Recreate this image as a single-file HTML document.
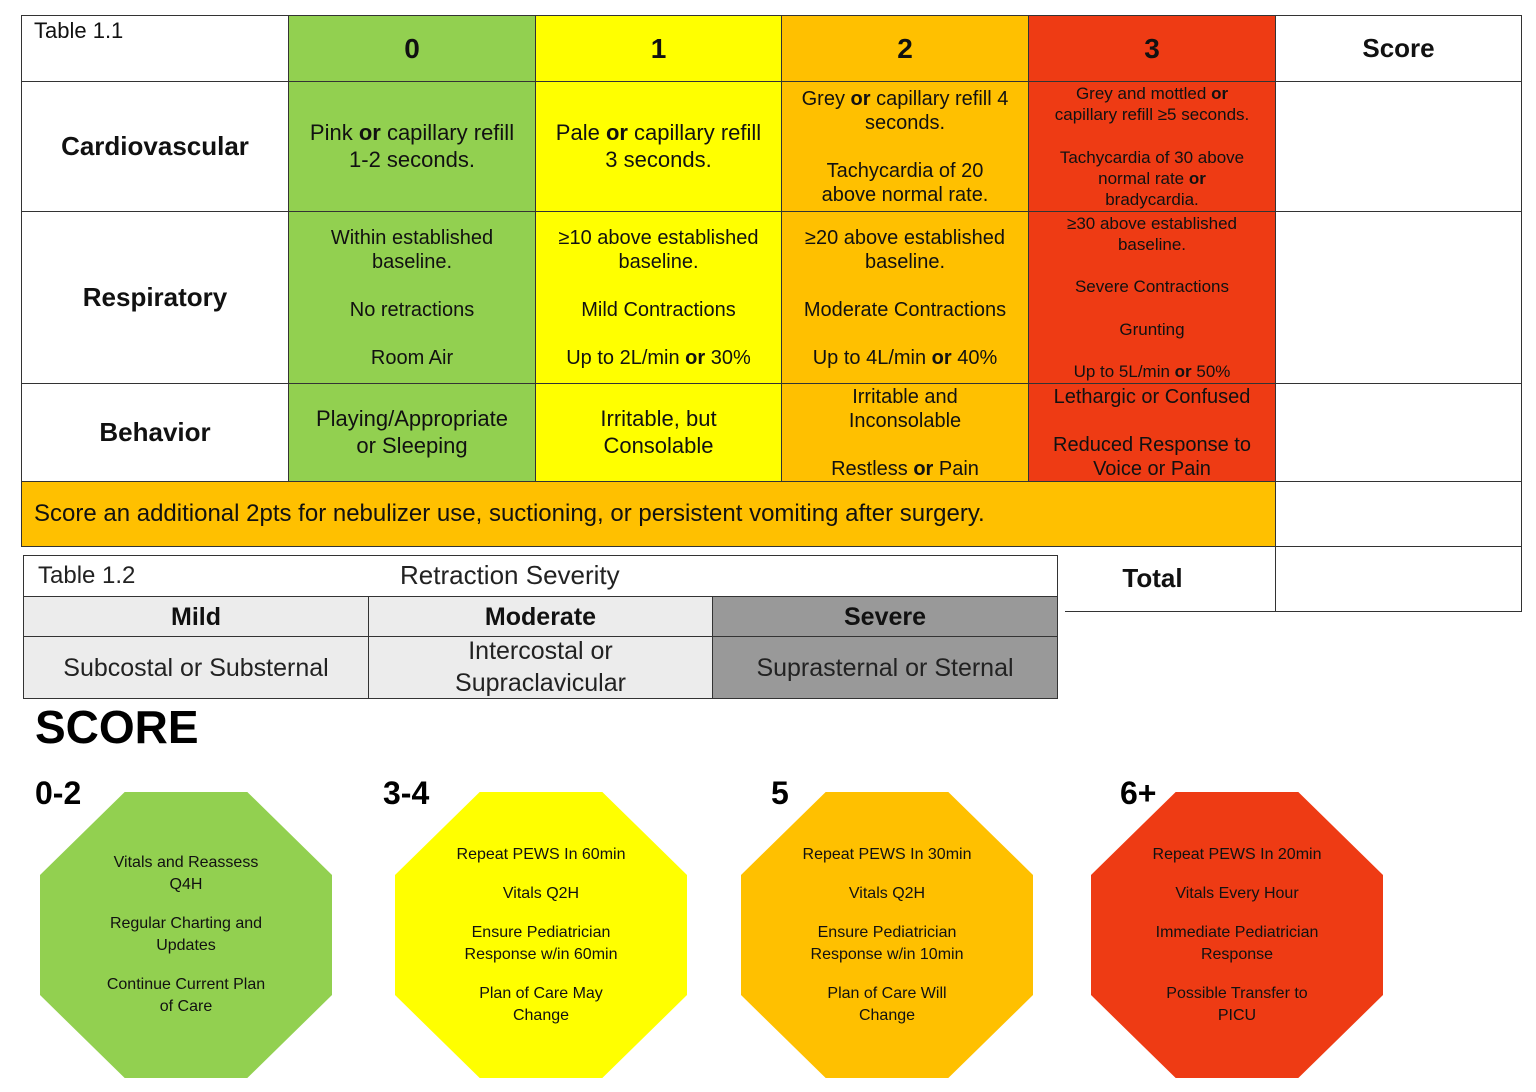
<!DOCTYPE html>
<html><head><meta charset="utf-8"><style>
body{margin:0;width:1536px;height:1092px;background:#fff;position:relative;font-family:"Liberation Sans",Arial,sans-serif;overflow:hidden}
.c{position:absolute;box-sizing:border-box;display:flex;align-items:center;justify-content:center;text-align:center;color:#111;line-height:1.2}
.b{border:1px solid #333}
.g{background:#92d050}.y{background:#ffff00}.o{background:#ffc000}.r{background:#ee3b14}
.h{font-weight:bold;font-size:28px}
.lab{font-weight:bold;font-size:26px}
.t{font-size:20px}
.s{font-size:17px}
.oct{position:absolute;width:292px;height:286px;top:792px;clip-path:polygon(29% 0,71% 0,100% 29%,100% 71%,71% 100%,29% 100%,0 71%,0 29%);display:flex;align-items:center;justify-content:center;text-align:center;font-size:16px;line-height:22px;color:#111;box-sizing:border-box;padding:0 50px}
.oct p{margin:0 0 17px}.oct p:last-child{margin:0}
.sl{position:absolute;top:775px;font-size:32px;font-weight:bold}
</style></head><body>
<div class="c b t" style="left:21px;top:15px;width:268px;height:67px;justify-content:flex-start;align-items:flex-start;padding:2px 12px;font-size:22px">Table 1.1</div>
<div class="c b g h" style="left:288px;top:15px;width:248px;height:67px">0</div>
<div class="c b y h" style="left:535px;top:15px;width:247px;height:67px">1</div>
<div class="c b o h" style="left:781px;top:15px;width:248px;height:67px">2</div>
<div class="c b r h" style="left:1028px;top:15px;width:248px;height:67px">3</div>
<div class="c b" style="left:1275px;top:15px;width:247px;height:67px;font-weight:bold;font-size:26px">Score</div>
<div class="c b lab" style="left:21px;top:81px;width:268px;height:131px">Cardiovascular</div>
<div class="c b g t" style="left:288px;top:81px;width:248px;height:131px;font-size:22px"><div>Pink <b>or</b> capillary refill<br>1-2 seconds.</div></div>
<div class="c b y t" style="left:535px;top:81px;width:247px;height:131px;font-size:22px"><div>Pale <b>or</b> capillary refill<br>3 seconds.</div></div>
<div class="c b o t" style="left:781px;top:81px;width:248px;height:131px"><div>Grey <b>or</b> capillary refill 4<br>seconds.<br><br>Tachycardia of 20<br>above normal rate.</div></div>
<div class="c b r s" style="left:1028px;top:81px;width:248px;height:131px;line-height:1.25"><div>Grey and mottled <b>or</b><br>capillary refill ≥5 seconds.<br><br>Tachycardia of 30 above<br>normal rate <b>or</b><br>bradycardia.</div></div>
<div class="c b" style="left:1275px;top:81px;width:247px;height:131px"></div>
<div class="c b lab" style="left:21px;top:211px;width:268px;height:173px">Respiratory</div>
<div class="c b g t" style="left:288px;top:211px;width:248px;height:173px"><div>Within established<br>baseline.<br><br>No retractions<br><br>Room Air</div></div>
<div class="c b y t" style="left:535px;top:211px;width:247px;height:173px"><div>≥10 above established<br>baseline.<br><br>Mild Contractions<br><br>Up to 2L/min <b>or</b> 30%</div></div>
<div class="c b o t" style="left:781px;top:211px;width:248px;height:173px"><div>≥20 above established<br>baseline.<br><br>Moderate Contractions<br><br>Up to 4L/min <b>or</b> 40%</div></div>
<div class="c b r s" style="left:1028px;top:211px;width:248px;height:173px;line-height:1.25"><div>≥30 above established<br>baseline.<br><br>Severe Contractions<br><br>Grunting<br><br>Up to 5L/min <b>or</b> 50%</div></div>
<div class="c b" style="left:1275px;top:211px;width:247px;height:173px"></div>
<div class="c b lab" style="left:21px;top:383px;width:268px;height:99px">Behavior</div>
<div class="c b g t" style="left:288px;top:383px;width:248px;height:99px;font-size:22px"><div>Playing/Appropriate<br>or Sleeping</div></div>
<div class="c b y t" style="left:535px;top:383px;width:247px;height:99px;font-size:22px"><div>Irritable, but<br>Consolable</div></div>
<div class="c b o t" style="left:781px;top:383px;width:248px;height:99px"><div>Irritable and<br>Inconsolable<br><br>Restless <b>or</b> Pain</div></div>
<div class="c b r t" style="left:1028px;top:383px;width:248px;height:99px"><div>Lethargic or Confused<br><br>Reduced Response to<br>Voice or Pain</div></div>
<div class="c b" style="left:1275px;top:383px;width:247px;height:99px"></div>
<div class="c b o" style="left:21px;top:481px;width:1255px;height:66px;justify-content:flex-start;padding-left:12px;font-size:24px">Score an additional 2pts for nebulizer use, suctioning, or persistent vomiting after surgery.</div>
<div class="c b" style="left:1275px;top:481px;width:247px;height:66px"></div>
<div class="c" style="left:1065px;top:546px;width:211px;height:66px;border-bottom:1px solid #333;font-weight:bold;font-size:26px;padding-right:36px">Total</div>
<div class="c b" style="left:1275px;top:546px;width:247px;height:66px"></div>
<div class="c b" style="left:23px;top:555px;width:1035px;height:42px;justify-content:flex-start;font-size:24px;color:#222"><span style="position:absolute;left:14px">Table 1.2</span><span style="position:absolute;left:376px;font-size:26px">Retraction Severity</span></div>
<div class="c b" style="left:23px;top:596px;width:346px;height:41px;background:#ececec;font-weight:bold;font-size:25px">Mild</div>
<div class="c b" style="left:368px;top:596px;width:345px;height:41px;background:#ececec;font-weight:bold;font-size:25px">Moderate</div>
<div class="c b" style="left:712px;top:596px;width:346px;height:41px;background:#999;font-weight:bold;font-size:25px">Severe</div>
<div class="c b" style="left:23px;top:636px;width:346px;height:63px;background:#ececec;font-size:25px;color:#222">Subcostal or Substernal</div>
<div class="c b" style="left:368px;top:636px;width:345px;height:63px;background:#ececec;font-size:25px;color:#222;line-height:1.25"><div>Intercostal or<br>Supraclavicular</div></div>
<div class="c b" style="left:712px;top:636px;width:346px;height:63px;background:#999;font-size:25px;color:#222">Suprasternal or Sternal</div>
<div style="position:absolute;left:35px;top:700px;font-size:46px;font-weight:bold">SCORE</div>
<div class="sl" style="left:35px">0-2</div>
<div class="sl" style="left:383px">3-4</div>
<div class="sl" style="left:771px">5</div>
<div class="sl" style="left:1120px">6+</div>
<div class="oct g" style="left:40px"><div><p>Vitals and Reassess<br>Q4H</p><p>Regular Charting and<br>Updates</p><p>Continue Current Plan<br>of Care</p></div></div>
<div class="oct y" style="left:395px"><div><p>Repeat PEWS In 60min</p><p>Vitals Q2H</p><p>Ensure Pediatrician<br>Response w/in 60min</p><p>Plan of Care May<br>Change</p></div></div>
<div class="oct o" style="left:741px"><div><p>Repeat PEWS In 30min</p><p>Vitals Q2H</p><p>Ensure Pediatrician<br>Response w/in 10min</p><p>Plan of Care Will<br>Change</p></div></div>
<div class="oct r" style="left:1091px"><div><p>Repeat PEWS In 20min</p><p>Vitals Every Hour</p><p>Immediate Pediatrician<br>Response</p><p>Possible Transfer to<br>PICU</p></div></div>
</body></html>
